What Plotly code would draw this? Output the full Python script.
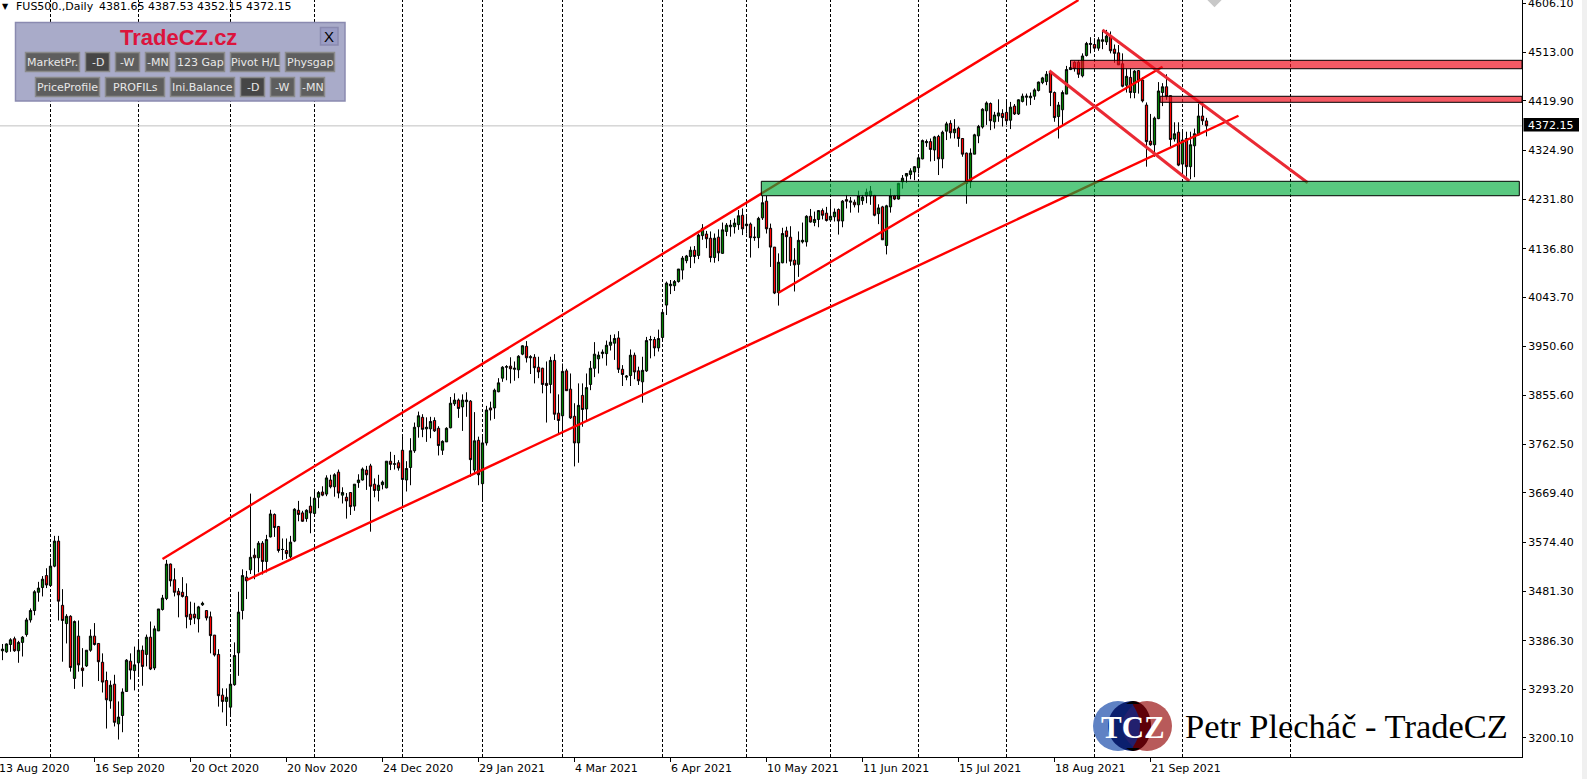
import plotly.graph_objects as go

WIDTH = 1587
HEIGHT = 779
PLOT_W = 1522
PLOT_H = 757

# daily bars
opens = [
    3367, 3365, 3379, 3390, 3367, 3383, 3398, 3426, 3444, 3479,
    3488, 3511, 3492, 3529, 3577, 3454, 3419, 3433, 3314, 3395,
    3334, 3338, 3368, 3395, 3381, 3345, 3310, 3271, 3303, 3227,
    3243, 3289, 3347, 3329, 3344, 3368, 3360, 3393, 3334, 3405,
    3446, 3467, 3533, 3503, 3481, 3479, 3471, 3437, 3437, 3428,
    3455, 3444, 3432, 3397, 3360, 3282, 3270, 3259, 3302, 3363,
    3444, 3508, 3522, 3550, 3545, 3573, 3538, 3585, 3628, 3605,
    3561, 3559, 3547, 3577, 3636, 3631, 3620, 3644, 3630, 3661,
    3671, 3667, 3694, 3681, 3709, 3665, 3661, 3670, 3644, 3689,
    3694, 3713, 3721, 3686, 3674, 3685, 3679, 3730, 3724, 3727,
    3751, 3694, 3718, 3750, 3796, 3814, 3792, 3792, 3808, 3793,
    3751, 3767, 3794, 3840, 3847, 3834, 3844, 3845, 3713, 3770,
    3687, 3765, 3832, 3832, 3863, 3889, 3910, 3912, 3906, 3905,
    3935, 3950, 3928, 3929, 3910, 3908, 3879, 3877, 3923, 3822,
    3817, 3903, 3868, 3816, 3765, 3856, 3830, 3877, 3908, 3926,
    3936, 3936, 3952, 3956, 3966, 3906, 3891, 3894, 3933, 3903,
    3882, 3903, 3962, 3963, 3947, 3967, 4029, 4066, 4066, 4074,
    4096, 4114, 4122, 4134, 4124, 4162, 4165, 4157, 4120, 4159,
    4128, 4170, 4179, 4179, 4183, 4201, 4181, 4184, 4158, 4158,
    4196, 4228, 4176, 4140, 4053, 4110, 4171, 4159, 4115, 4107,
    4150, 4150, 4199, 4187, 4193, 4210, 4205, 4192, 4198, 4212,
    4190, 4231, 4226, 4226, 4221, 4229, 4238, 4238, 4239, 4204,
    4217, 4143, 4217, 4238, 4232, 4265, 4276, 4279, 4284, 4292,
    4309, 4340, 4342, 4326, 4352, 4309, 4362, 4377, 4359, 4368,
    4348, 4320, 4265, 4318, 4353, 4370, 4401, 4415, 4380, 4391,
    4396, 4398, 4383, 4410, 4395, 4419, 4427, 4426, 4429, 4440,
    4455, 4457, 4476, 4436, 4390, 4403, 4433, 4480, 4494, 4494,
    4468, 4507, 4528, 4528, 4521, 4534, 4533, 4543, 4519, 4512,
    4491, 4450, 4465, 4436, 4478, 4460, 4412, 4343, 4336, 4386,
    4436, 4447, 4430, 4347, 4360, 4299, 4348, 4294, 4334, 4355,
    4391, 4381.65,
]
highs = [
    3380, 3381, 3391, 3394, 3386, 3395, 3430, 3448, 3483, 3499,
    3510, 3525, 3544, 3587, 3587, 3485, 3437, 3435, 3425, 3425,
    3372, 3368, 3408, 3420, 3381, 3362, 3327, 3310, 3321, 3270,
    3295, 3351, 3362, 3375, 3389, 3377, 3398, 3423, 3415, 3447,
    3474, 3541, 3534, 3525, 3487, 3508, 3496, 3461, 3459, 3453,
    3461, 3444, 3442, 3397, 3370, 3295, 3295, 3319, 3383, 3480,
    3523, 3520, 3668, 3563, 3577, 3577, 3589, 3637, 3630, 3606,
    3582, 3582, 3587, 3640, 3654, 3635, 3638, 3662, 3677, 3673,
    3682, 3703, 3704, 3707, 3714, 3680, 3669, 3670, 3686, 3705,
    3718, 3721, 3725, 3697, 3704, 3693, 3730, 3748, 3742, 3732,
    3780, 3730, 3774, 3804, 3825, 3820, 3814, 3815, 3814, 3797,
    3770, 3795, 3853, 3860, 3850, 3858, 3862, 3847, 3824, 3777,
    3780, 3836, 3844, 3869, 3889, 3912, 3914, 3929, 3921, 3933,
    3952, 3960, 3933, 3935, 3930, 3909, 3921, 3930, 3935, 3858,
    3917, 3907, 3898, 3841, 3879, 3879, 3898, 3922, 3958, 3940,
    3944, 3961, 3972, 3973, 3979, 3914, 3895, 3944, 3938, 3911,
    3930, 3968, 3970, 3968, 3982, 4015, 4074, 4077, 4077, 4098,
    4123, 4125, 4141, 4142, 4166, 4184, 4171, 4170, 4166, 4174,
    4187, 4186, 4192, 4195, 4211, 4214, 4198, 4187, 4179, 4198,
    4238, 4238, 4185, 4140, 4128, 4177, 4179, 4180, 4138, 4170,
    4187, 4201, 4213, 4208, 4211, 4214, 4217, 4230, 4214, 4214,
    4230, 4240, 4236, 4231, 4248, 4240, 4252, 4257, 4240, 4222,
    4219, 4221, 4252, 4240, 4263, 4278, 4281, 4291, 4295, 4313,
    4346, 4346, 4348, 4353, 4355, 4363, 4380, 4383, 4385, 4371,
    4348, 4321, 4329, 4357, 4374, 4406, 4419, 4417, 4399, 4423,
    4404, 4422, 4418, 4414, 4423, 4434, 4434, 4436, 4444, 4457,
    4466, 4477, 4477, 4438, 4418, 4440, 4487, 4498, 4496, 4498,
    4511, 4533, 4542, 4540, 4542, 4556, 4556, 4553, 4528, 4527,
    4511, 4482, 4482, 4479, 4479, 4465, 4417, 4395, 4390, 4456,
    4454, 4471, 4430, 4379, 4379, 4366, 4361, 4361, 4367, 4415,
    4418, 4387.53,
]
lows = [
    3349, 3363, 3365, 3365, 3344, 3356, 3394, 3421, 3435, 3461,
    3471, 3487, 3490, 3527, 3425, 3346, 3381, 3327, 3294, 3327,
    3298, 3336, 3365, 3377, 3309, 3287, 3218, 3256, 3222, 3197,
    3211, 3289, 3312, 3291, 3317, 3300, 3337, 3330, 3330, 3405,
    3444, 3464, 3490, 3471, 3431, 3469, 3410, 3416, 3418, 3402,
    3453, 3425, 3362, 3356, 3260, 3249, 3223, 3242, 3300, 3319,
    3427, 3466, 3514, 3504, 3517, 3513, 3517, 3584, 3585, 3555,
    3541, 3543, 3544, 3575, 3615, 3614, 3614, 3592, 3627, 3640,
    3663, 3663, 3678, 3662, 3659, 3649, 3620, 3627, 3635, 3679,
    3693, 3675, 3595, 3661, 3653, 3676, 3678, 3713, 3714, 3712,
    3648, 3672, 3684, 3746, 3775, 3776, 3767, 3774, 3786, 3741,
    3742, 3767, 3793, 3836, 3813, 3788, 3815, 3700, 3705, 3684,
    3656, 3760, 3808, 3811, 3862, 3882, 3885, 3879, 3884, 3889,
    3933, 3919, 3897, 3879, 3889, 3860, 3804, 3860, 3809, 3783,
    3780, 3865, 3811, 3720, 3727, 3796, 3806, 3866, 3891, 3898,
    3927, 3913, 3942, 3924, 3899, 3874, 3885, 3874, 3887, 3876,
    3842, 3901, 3927, 3931, 3940, 3959, 4010, 4050, 4056, 4072,
    4078, 4109, 4100, 4109, 4117, 4154, 4138, 4111, 4110, 4113,
    4127, 4161, 4160, 4166, 4173, 4163, 4166, 4120, 4152, 4138,
    4192, 4166, 4102, 4050, 4028, 4109, 4109, 4104, 4055, 4083,
    4147, 4141, 4187, 4180, 4178, 4193, 4189, 4190, 4189, 4164,
    4178, 4214, 4206, 4216, 4206, 4221, 4224, 4221, 4199, 4184,
    4154, 4126, 4206, 4230, 4231, 4252, 4263, 4270, 4268, 4281,
    4308, 4332, 4304, 4305, 4278, 4291, 4345, 4348, 4348, 4332,
    4313, 4223, 4253, 4318, 4339, 4367, 4374, 4364, 4367, 4380,
    4371, 4374, 4366, 4393, 4393, 4417, 4411, 4412, 4422, 4438,
    4452, 4450, 4410, 4380, 4348, 4372, 4433, 4479, 4476, 4464,
    4465, 4505, 4511, 4517, 4516, 4519, 4527, 4511, 4493, 4489,
    4446, 4436, 4425, 4425, 4434, 4417, 4294, 4334, 4313, 4385,
    4410, 4422, 4332, 4342, 4295, 4275, 4275, 4270, 4274, 4354,
    4374, 4352.15,
]
closes = [
    3370, 3380, 3388, 3367, 3383, 3393, 3426, 3444, 3480, 3487,
    3504, 3493, 3529, 3577, 3462, 3425, 3433, 3335, 3423, 3340,
    3329, 3368, 3395, 3379, 3346, 3307, 3273, 3301, 3230, 3240,
    3288, 3349, 3330, 3340, 3368, 3337, 3393, 3332, 3409, 3447,
    3468, 3533, 3501, 3479, 3474, 3471, 3432, 3427, 3430, 3451,
    3458, 3430, 3396, 3359, 3281, 3270, 3278, 3303, 3358, 3441,
    3511, 3501, 3546, 3545, 3573, 3538, 3580, 3629, 3603, 3559,
    3561, 3553, 3575, 3638, 3628, 3615, 3636, 3631, 3659, 3670,
    3665, 3698, 3681, 3704, 3669, 3670, 3654, 3643, 3686, 3694,
    3715, 3704, 3682, 3674, 3684, 3690, 3730, 3724, 3725, 3717,
    3695, 3716, 3750, 3795, 3817, 3791, 3795, 3806, 3788, 3760,
    3768, 3793, 3841, 3847, 3831, 3847, 3847, 3733, 3769, 3704,
    3765, 3828, 3828, 3866, 3880, 3910, 3911, 3907, 3908, 3931,
    3951, 3928, 3930, 3909, 3901, 3877, 3875, 3923, 3820, 3808,
    3902, 3865, 3813, 3765, 3837, 3829, 3871, 3908, 3935, 3933,
    3939, 3952, 3958, 3965, 3906, 3896, 3893, 3933, 3901, 3884,
    3904, 3961, 3963, 3947, 3965, 4015, 4071, 4069, 4074, 4098,
    4119, 4123, 4134, 4122, 4163, 4176, 4156, 4120, 4157, 4129,
    4173, 4182, 4182, 4186, 4200, 4175, 4184, 4158, 4159, 4195,
    4225, 4175, 4140, 4052, 4111, 4166, 4160, 4113, 4106, 4153,
    4153, 4199, 4188, 4193, 4210, 4201, 4191, 4199, 4207, 4190,
    4228, 4228, 4228, 4221, 4238, 4236, 4245, 4247, 4201, 4215,
    4154, 4219, 4238, 4232, 4262, 4272, 4281, 4286, 4294, 4311,
    4344, 4342, 4327, 4351, 4309, 4360, 4376, 4359, 4366, 4348,
    4318, 4262, 4320, 4355, 4371, 4404, 4416, 4382, 4393, 4397,
    4388, 4382, 4408, 4395, 4422, 4429, 4429, 4429, 4441, 4456,
    4464, 4471, 4436, 4388, 4412, 4436, 4480, 4484, 4482, 4471,
    4506, 4530, 4530, 4521, 4537, 4537, 4544, 4516, 4511, 4489,
    4448, 4467, 4436, 4477, 4458, 4420, 4342, 4336, 4387, 4439,
    4447, 4428, 4346, 4357, 4297, 4345, 4294, 4336, 4357, 4391,
    4382, 4372.15,
]
bars = list(range(len(closes)))

price_ticks = [4606.10, 4513.00, 4419.90, 4324.90, 4231.80, 4136.80, 4043.70, 3950.60,
               3855.60, 3762.50, 3669.40, 3574.40, 3481.30, 3386.30, 3293.20, 3200.10]
date_bars = [-1, 23, 47, 71, 95, 119, 143, 167, 191, 215, 239, 263, 287]
date_labels = ['13 Aug 2020', '16 Sep 2020', '20 Oct 2020', '20 Nov 2020', '24 Dec 2020',
               '29 Jan 2021', '4 Mar 2021', '6 Apr 2021', '10 May 2021', '11 Jun 2021',
               '15 Jul 2021', '18 Aug 2021', '21 Sep 2021']
month_bars = [12, 34, 57, 78, 100, 120, 140, 165, 186, 207, 229, 251, 273, 295, 322]

last_price = 4372.15
header_text = '4381.65 4387.53 4352.15 4372.15'

# drawn objects as [bar0, bar1], [price0, price1]
upper_channel = ([40, 269], [3542.7, 4613])
lower_channel = ([61.1, 309], [3502.5, 4391.6])
inner_channel = ([194, 290], [4052.7, 4485.5])
falling_a = ([261.7, 296.7], [4477.8, 4266.6])
falling_b = ([275, 326.3], [4555.7, 4263.3])

X_RANGE = [-0.625, (PLOT_W - 2.5) / 4]
Y_RANGE = [4613.2 - PLOT_H * 1.915, 4613.2]


def px(x):
    return x / PLOT_W


def py(y):
    return 1 - y / PLOT_H


def bar_paper(k):
    return (k - X_RANGE[0]) / (X_RANGE[1] - X_RANGE[0])


def box(x0, y0, x1, y1, fill, line='rgba(0,0,0,0)', width=1):
    return dict(type='rect', xref='paper', yref='paper', x0=px(x0), x1=px(x1), y0=py(y0), y1=py(y1),
                fillcolor=fill, line=dict(color=line, width=width), layer='above')


def zone(k0, k1, p0, p1, fill):
    return dict(type='rect', xref='x', yref='y', x0=k0, x1=k1, y0=p0, y1=p1, fillcolor=fill,
                line=dict(color='black', width=1), layer='above')


def label(x, y, text, color='black', size=11, family='DejaVu Sans', anchor='center', bold=False):
    if bold:
        text = f'<b>{text}</b>'
    return dict(xref='paper', yref='paper', x=px(x), y=py(y), text=text, showarrow=False, xanchor=anchor,
                yanchor='middle', font=dict(color=color, size=size, family=family), borderpad=0, borderwidth=0)


def path_shape(points, fill):
    return dict(type='path', xref='paper', yref='paper', path=points, fillcolor=fill,
                line=dict(color='rgba(0,0,0,0)', width=0), layer='above')


def pt(x, y):
    return f'{px(x)},{py(y)}'


def half_disc(cx, cy, w, r, fill):
    # half of an ellipse, w is signed so it opens left or right
    k = 0.5523
    d = (f'M{pt(cx, cy - r)} C{pt(cx + k * w, cy - r)} {pt(cx + w, cy - k * r)} {pt(cx + w, cy)} '
         f'C{pt(cx + w, cy + k * r)} {pt(cx + k * w, cy + r)} {pt(cx, cy + r)} Z')
    return path_shape(d, fill)


def disc(cx, cy, r, fill):
    return dict(type='circle', xref='paper', yref='paper', x0=px(cx - r), x1=px(cx + r), y0=py(cy - r),
                y1=py(cy + r), fillcolor=fill, line=dict(color='rgba(0,0,0,0)', width=0), layer='above')


fig = go.Figure()
fig.add_trace(go.Candlestick(
    x=bars, open=opens, high=highs, low=lows, close=closes,
    increasing=dict(fillcolor='#008000', line=dict(color='black', width=1)),
    decreasing=dict(fillcolor='#ff0000', line=dict(color='black', width=1)),
    whiskerwidth=0, hoverinfo='skip',
))
for xs, ys in (upper_channel, lower_channel, inner_channel):
    fig.add_trace(go.Scatter(x=xs, y=ys, mode='lines', line=dict(color='#ff0000', width=2.4), hoverinfo='skip'))
for xs, ys in (falling_a, falling_b):
    fig.add_trace(go.Scatter(x=xs, y=ys, mode='lines', line=dict(color='#ea2a34', width=3), hoverinfo='skip'))
# the little grey arrow cut by the top edge
fig.add_trace(go.Scatter(x=[303], y=[4613], mode='markers', hoverinfo='skip',
                         marker=dict(symbol='diamond', size=11, color='#c8c8c8')))

shapes = []
for k in month_bars:
    shapes.append(dict(type='line', xref='x', yref='paper', x0=k, x1=k, y0=0, y1=1, layer='below',
                       line=dict(color='black', width=1, dash='3px,2px')))
shapes.append(dict(type='line', xref='paper', yref='y', x0=0, x1=1, y0=last_price, y1=last_price, layer='below',
                   line=dict(color='#c0c0c0', width=1)))

# support / resistance zones
shapes.append(zone(189.7, 379.2, 4266, 4238.4, 'rgba(0,170,60,0.65)'))
shapes.append(zone(267, X_RANGE[1], 4497.7, 4481.6, 'rgba(240,12,27,0.68)'))
shapes.append(zone(289.4, X_RANGE[1], 4428.8, 4417.3, 'rgba(240,12,27,0.68)'))

# price tag and the window edge on the right
shapes.append(box(1523.5, 118, 1579, 131.5, 'black'))
shapes.append(box(1582, -1, 1588, 780, '#f0f0f0'))

# panel with the buttons
shapes.append(box(15.5, 22.5, 345, 101, '#a9abc9', '#8a8ab0', 1.5))
shapes.append(box(320.5, 27.5, 338, 45, '#9a9cc4', '#8a8ab0', 1.5))
buttons = [
    (25, 52, 80, 72, 'MarketPr.', False), (85, 52, 110, 72, '-D', True), (115, 52, 140, 72, '-W', False),
    (145, 52, 170, 72, '-MN', False), (175, 52, 225, 72, '123 Gap', False), (230, 52, 280, 72, 'Pivot H/L', False),
    (285, 52, 335, 72, 'Physgap', False), (35, 77, 100, 97, 'PriceProfile', False),
    (105, 77, 165, 97, 'PROFILs', False), (170, 77, 235, 97, 'Ini.Balance', False),
    (240, 77, 265, 97, '-D', True), (270, 77, 295, 97, '-W', False), (300, 77, 325, 97, '-MN', False),
]
notes = []
for x0, y0, x1, y1, text, pressed in buttons:
    shapes.append(box(x0 + 0.5, y0 + 0.5, x1 - 0.5, y1 - 0.5, '#464646' if pressed else '#5e5e5e', '#8a8a8a', 1.5))
    notes.append(label((x0 + x1) / 2, (y0 + y1) / 2 + 0.5, text, color='#e8e8e8'))
notes.append(label(178, 38, 'TradeCZ.cz', color='#dc143c', size=22, family='Liberation Sans', bold=True))
notes.append(label(329, 36, 'X', size=15, family='Liberation Sans'))

# logo
shapes.append(disc(1118, 726, 25, '#5f82c4'))
shapes.append(disc(1147, 726, 25, '#b85a5a'))
shapes.append(half_disc(1133, 726, -25, 25, '#0b1f6e'))
shapes.append(half_disc(1133, 726, 18, 25, '#5e0008'))
shapes.append(path_shape(f'M{pt(1133, 705)} Q{pt(1111, 726)} {pt(1133, 747)} Q{pt(1147, 726)} {pt(1133, 705)} Z', '#22206e'))
shapes.append(path_shape(f'M{pt(1126, 704)} Q{pt(1133, 698)} {pt(1140, 704)} Z', 'black'))
shapes.append(path_shape(f'M{pt(1126, 748)} Q{pt(1133, 754)} {pt(1140, 748)} Z', 'black'))

notes.append(label(1133, 727, 'TCZ', color='white', size=31, family='Liberation Serif', bold=True))
notes.append(label(1185, 726, 'Petr Plecháč - TradeCZ', size=34.5, family='Liberation Serif', anchor='left'))

notes.append(label(2, 7, '▼', size=8, anchor='left'))
notes.append(label(16, 7, 'FUS500.,Daily', anchor='left'))
notes.append(label(99, 7, header_text, anchor='left'))
notes.append(label(1528, 125, f'{last_price:.2f}', color='white', anchor='left'))
# plotly drops the tick label this close to the top edge
notes.append(label(1528, 3.5, f'{price_ticks[0]:.2f}', anchor='left'))

for k, text in zip(date_bars, date_labels):
    notes.append(dict(xref='paper', yref='paper', x=bar_paper(k), y=0, yshift=-11.5, xshift=-1, text=text,
                      showarrow=False, xanchor='left', yanchor='middle', borderpad=0,
                      font=dict(color='black', size=11, family='DejaVu Sans')))

fig.update_layout(
    width=WIDTH, height=HEIGHT, margin=dict(l=0, r=WIDTH - PLOT_W, t=0, b=HEIGHT - PLOT_H, pad=0),
    paper_bgcolor='white', plot_bgcolor='white', showlegend=False, boxgap=0.2, hovermode=False,
    shapes=shapes, annotations=notes,
    xaxis=dict(range=X_RANGE, tickvals=date_bars, showticklabels=False, ticks='outside', ticklen=4, tickcolor='black',
               showgrid=False, zeroline=False, showline=True, linecolor='black', linewidth=1,
               rangeslider=dict(visible=False)),
    yaxis=dict(range=Y_RANGE, side='right', tickvals=price_ticks, tickformat='.2f', ticks='outside', ticklen=3,
               tickcolor='black', showgrid=False, zeroline=False, showline=True, linecolor='black', linewidth=1,
               tickfont=dict(family='DejaVu Sans', size=11, color='black')),
)

fig.write_html("out.html", config=dict(displayModeBar=False),
               post_script="document.body.style.margin='0';")
